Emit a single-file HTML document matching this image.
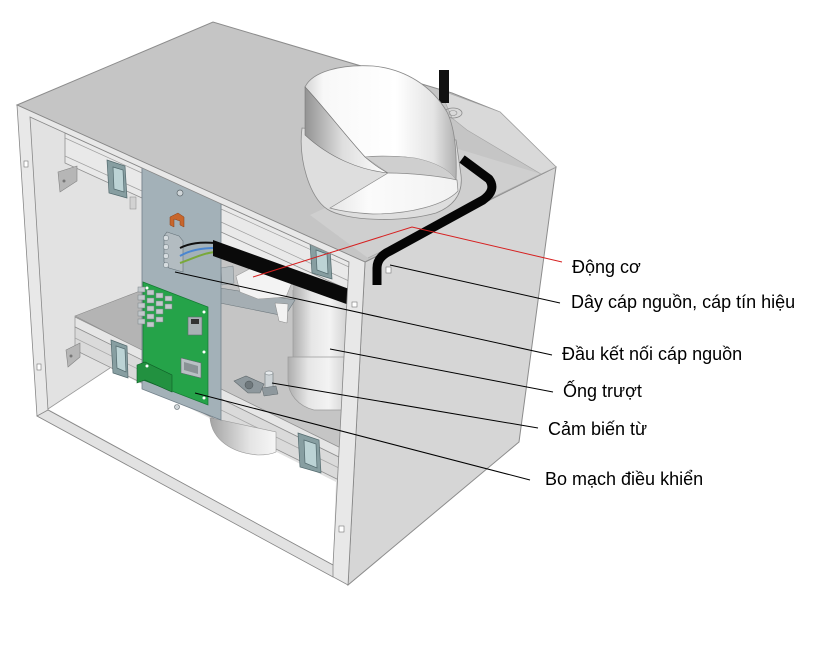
<!DOCTYPE html>
<html><head><meta charset="utf-8"><style>
html,body{margin:0;padding:0;background:#fff;}
svg{display:block}
text{font-family:"Liberation Sans", Arial, sans-serif;font-size:18px;fill:#000}
</style></head><body>
<svg width="819" height="660" viewBox="0 0 819 660" xmlns="http://www.w3.org/2000/svg">
<defs>
 <linearGradient id="cylOut" x1="0" x2="1" y1="0" y2="0">
  <stop offset="0" stop-color="#939393"/><stop offset="0.45" stop-color="#dedede"/><stop offset="1" stop-color="#ffffff"/>
 </linearGradient>
 <linearGradient id="cylIn" x1="0" x2="1">
  <stop offset="0" stop-color="#d4d4d4"/><stop offset="0.12" stop-color="#f8f8f8"/><stop offset="0.6" stop-color="#ffffff"/><stop offset="0.85" stop-color="#e4e4e4"/><stop offset="1" stop-color="#b0b0b0"/>
 </linearGradient>
 <linearGradient id="tube" x1="0" x2="1">
  <stop offset="0" stop-color="#adadad"/><stop offset="0.35" stop-color="#e6e6e6"/><stop offset="0.7" stop-color="#f3f3f3"/><stop offset="1" stop-color="#d4d4d4"/>
 </linearGradient>
 <linearGradient id="fan" x1="0" x2="1">
  <stop offset="0" stop-color="#a4a4a4"/><stop offset="0.6" stop-color="#e4e4e4"/><stop offset="1" stop-color="#f6f6f6"/>
 </linearGradient>
 <linearGradient id="tongue" x1="0" x2="1">
  <stop offset="0" stop-color="#e6e6e6"/><stop offset="0.3" stop-color="#fbfbfb"/><stop offset="1" stop-color="#f2f2f2"/>
 </linearGradient>
</defs>

<!-- right face -->
<polygon points="365,262 556,167 519,442 348,585" fill="#d6d6d6" stroke="#8c8c8c" stroke-width="1"/>

<!-- top face -->
<polygon points="17,105 213,22 452,93 500,112 556,167 365,262" fill="#c5c5c5" stroke="#8c8c8c" stroke-width="1"/>
<polygon points="310,215 455,148 541,174 368,258" fill="#cfcfcf"/>
<polygon points="440,90 500,112 556,167 541,174 467,130 452,118" fill="#d9d9d9" stroke="#a5a5a5" stroke-width="0.6"/>
<line x1="368" y1="258" x2="541" y2="174" stroke="#a8a8a8" stroke-width="0.8"/>

<!-- interior -->
<polygon points="30,117 349,262 333,565 48,410" fill="#e2e2e2"/>
<!-- white opening -->
<polygon points="48,409 110,368 336,482 333,565" fill="#ffffff"/>
<line x1="48" y1="409" x2="110" y2="368" stroke="#9a9a9a" stroke-width="0.8"/>

<!-- right compartment back wall -->
<polygon points="221,226 349,285 349,452 221,389" fill="#c5c5c5"/>
<polygon points="221,226 349,285 349,300 221,246" fill="#ececec"/>

<!-- upper rail left -->
<polygon points="65,133 142,168 142,198 65,163" fill="#e9e9e9" stroke="#8f8f8f" stroke-width="0.8"/>
<line x1="65" y1="138" x2="142" y2="173" stroke="#a0a0a0" stroke-width="0.7"/>
<line x1="65" y1="156" x2="142" y2="191" stroke="#a0a0a0" stroke-width="0.7"/>
<!-- upper rail right -->
<polygon points="221,204 349,262 349,290 221,232" fill="#e9e9e9" stroke="#8f8f8f" stroke-width="0.8"/>
<line x1="221" y1="209" x2="349" y2="267" stroke="#a0a0a0" stroke-width="0.7"/>
<line x1="221" y1="222" x2="349" y2="281" stroke="#a0a0a0" stroke-width="0.7"/>

<!-- lower shelf top (left) -->
<polygon points="75,316 140,291 143,291 143,351" fill="#b4b4b4" stroke="#8a8a8a" stroke-width="0.6"/>
<!-- shelf front band + rail -->
<polygon points="75,317 349,452 349,462 75,327" fill="#e6e6e6" stroke="#8f8f8f" stroke-width="0.7"/>
<polygon points="75,327 349,462 349,485 75,350" fill="#dadada" stroke="#8f8f8f" stroke-width="0.7"/>
<line x1="75" y1="338" x2="349" y2="473" stroke="#a6a6a6" stroke-width="0.7"/>

<!-- fan bottom -->
<path d="M210,418 C212,440 232,453 258,455 C266,455 272,454 276,452 L276,432 L221,420 Z" fill="url(#fan)" stroke="#999" stroke-width="0.6"/>

<!-- slide tube cylinder -->
<path d="M293,285 L346,290 L346,357 L293,357 Z" fill="url(#tube)"/>
<path d="M288,357 L346,357 L346,410 L314,410 C298,406 288,394 288,380 Z" fill="url(#tube)" stroke="#9a9a9a" stroke-width="0.7"/>
<line x1="293" y1="290" x2="293" y2="357" stroke="#9a9a9a" stroke-width="0.7"/>

<!-- magnetic sensor -->
<polygon points="234,381 246,376 264,384 260,393 248,393" fill="#8e989d" stroke="#5f686c" stroke-width="0.6"/>
<circle cx="249" cy="385" r="4" fill="#6f787c" stroke="#4a5255" stroke-width="0.5"/>
<rect x="265" y="373" width="8" height="17" fill="#cdd3d6" stroke="#6f777b" stroke-width="0.6"/>
<ellipse cx="269" cy="373" rx="4" ry="2" fill="#e6eaec" stroke="#6f777b" stroke-width="0.5"/>
<polygon points="262,388 276,386 278,394 264,396" fill="#8e989d" stroke="#5f686c" stroke-width="0.5"/>

<!-- motor bracket + motor -->
<polygon points="220,288 295,300 285,316 220,303" fill="#a5aeb3" stroke="#6f797e" stroke-width="0.6"/>
<polygon points="275,303 288,304 287,323 279,321" fill="#f2f2f2" stroke="#888" stroke-width="0.5"/>
<polygon points="236,276 255,266 285,270 293,280 286,297 258,299 240,292" fill="#f3f3f3" stroke="#999" stroke-width="0.6"/>
<polygon points="221,268 233,266 234,283 222,285" fill="#b4bcc0" stroke="#7a8388" stroke-width="0.5"/>

<!-- mounting plate -->
<polygon points="142,166 221,199 221,420 142,389" fill="#a3b1b8" stroke="#72808a" stroke-width="0.8"/>
<circle cx="180" cy="193" r="3" fill="#d0d6d9" stroke="#5d676c" stroke-width="0.7"/>
<circle cx="177" cy="407" r="2.5" fill="#d0d6d9" stroke="#5d676c" stroke-width="0.6"/>
<!-- orange bracket -->
<polygon points="170,217 178,213 184,217 184,227 180,225 180,221 174,219 174,227 170,225" fill="#c8662c" stroke="#8a3f14" stroke-width="0.5"/>
<!-- connector block -->
<polygon points="167,232 179,236 183,241 183,272 169,268 164,262 164,236" fill="#b3bcc1" stroke="#66737a" stroke-width="0.6"/>
<circle cx="166" cy="238" r="2.6" fill="#d7dde0" stroke="#66737a" stroke-width="0.5"/>
<circle cx="166" cy="247" r="2.6" fill="#d7dde0" stroke="#66737a" stroke-width="0.5"/>
<circle cx="166" cy="256" r="2.6" fill="#d7dde0" stroke="#66737a" stroke-width="0.5"/>
<circle cx="166" cy="265" r="2.6" fill="#d7dde0" stroke="#66737a" stroke-width="0.5"/>
<!-- wires -->
<path d="M180,248 C190,243 200,242 215,243" stroke="#111" stroke-width="2" fill="none"/>
<path d="M180,256 C190,250 202,248 215,248" stroke="#4a86d0" stroke-width="2" fill="none"/>
<path d="M180,263 C194,258 204,253 215,252" stroke="#79a83a" stroke-width="2" fill="none"/>

<!-- black cable bar -->
<polygon points="213,240 352,290 352,306 213,256" fill="#0a0a0a"/>

<!-- PCB -->
<polygon points="143,282 208,307 208,405 143,380" fill="#25a349" stroke="#157a33" stroke-width="0.7"/>
<g fill="#c2c8cb" stroke="#7a8387" stroke-width="0.5">
<rect x="138" y="287" width="7" height="5"/><rect x="138" y="295" width="7" height="5"/><rect x="138" y="303" width="7" height="5"/><rect x="138" y="311" width="7" height="5"/><rect x="138" y="319" width="7" height="5"/>
<rect x="147" y="290" width="7" height="5"/><rect x="147" y="298" width="7" height="5"/><rect x="147" y="306" width="7" height="5"/><rect x="147" y="314" width="7" height="5"/><rect x="147" y="322" width="7" height="5"/>
<rect x="156" y="293" width="7" height="5"/><rect x="156" y="301" width="7" height="5"/><rect x="156" y="309" width="7" height="5"/><rect x="156" y="317" width="7" height="5"/>
<rect x="165" y="296" width="7" height="5"/><rect x="165" y="304" width="7" height="5"/>
</g>
<rect x="188" y="317" width="14" height="18" fill="#a9b1b5" stroke="#5f6a6f" stroke-width="0.6"/>
<rect x="191" y="319" width="8" height="5" fill="#333"/>
<polygon points="181,358 201,363 201,378 181,373" fill="#b9c0c4" stroke="#5f6a6f" stroke-width="0.6"/>
<polygon points="184,362 198,366 198,374 184,370" fill="#8a9296"/>
<polygon points="137,365 145,362 172,375 172,392 145,380 137,383" fill="#229140" stroke="#0f5e27" stroke-width="0.6"/>
<g fill="#fff"><circle cx="147" cy="288" r="1.5"/><circle cx="204" cy="312" r="1.5"/><circle cx="204" cy="398" r="1.5"/><circle cx="204" cy="352" r="1.5"/><circle cx="147" cy="366" r="1.5"/></g>

<!-- latches -->
<g stroke="#536a6e" stroke-width="0.7">
<polygon points="107,160 125,166 127,198 109,193" fill="#879ea1"/>
<polygon points="113,167 123,170 124,192 114,189" fill="#bcd3d5"/>
<polygon points="310,243 330,249 332,279 312,273" fill="#879ea1"/>
<polygon points="316,250 327,254 328,274 317,270" fill="#bcd3d5"/>
<polygon points="111,340 127,346 128,378 113,373" fill="#879ea1"/>
<polygon points="116,346 125,349 126,372 117,368" fill="#bcd3d5"/>
<polygon points="298,433 319,440 321,473 300,467" fill="#879ea1"/>
<polygon points="304,440 316,444 317,468 305,463" fill="#bcd3d5"/>
</g>
<!-- side brackets -->
<polygon points="58,172 77,166 77,181 60,192" fill="#b6b6b6" stroke="#838383" stroke-width="0.6"/>
<circle cx="64" cy="181" r="1.5" fill="#777"/>
<polygon points="66,350 80,343 80,357 68,367" fill="#b6b6b6" stroke="#838383" stroke-width="0.6"/>
<circle cx="71" cy="356" r="1.5" fill="#777"/>
<rect x="130" y="197" width="6" height="12" fill="#d2d2d2" stroke="#888" stroke-width="0.5"/>

<!-- front frame -->
<path d="M17,105 L365,262 L348,585 L37,416 Z M30,117 L349,262 L333,565 L48,410 Z" fill="#e8e8e8" fill-rule="evenodd" stroke="#888" stroke-width="0.8"/>
<polygon points="37,416 48,410 333,565 333,577" fill="#e2e2e2" stroke="#888" stroke-width="0.8"/>
<g fill="#fff" stroke="#777" stroke-width="0.6">
<rect x="24" y="161" width="4" height="6"/><rect x="37" y="364" width="4" height="6"/>
<rect x="352" y="302" width="5" height="5"/><rect x="339" y="526" width="5" height="6"/>
<rect x="386" y="267" width="5" height="6"/>
</g>

<!-- black post on top -->
<rect x="439" y="70" width="10" height="33" fill="#111"/>
<ellipse cx="453" cy="113" rx="9" ry="5" fill="none" stroke="#8a8a8a" stroke-width="0.8"/>
<ellipse cx="453" cy="113" rx="4" ry="2.5" fill="none" stroke="#8a8a8a" stroke-width="0.6"/>

<!-- black cable on top -->
<path d="M377,285 L377,268 Q377,257 390,251 L483,200 Q497,190 489,179 L462,159" stroke="#050505" stroke-width="9" fill="none" stroke-linejoin="round"/>

<!-- top cylinder -->
<path d="M302,128 C298,160 310,198 327,209 C345,221 400,223 436,213 C456,205 463,192 461,175 L456,140 Z" fill="#dedede" stroke="#8a8a8a" stroke-width="0.8"/>
<path d="M305,87 C312,72 340,64 373,66 C405,69 432,86 447,112 C455,128 457,152 456,180 C445,170 430,160 405,157 C390,156 375,156 365,157 C345,135 322,105 305,87 Z" fill="url(#cylIn)" stroke="#8a8a8a" stroke-width="0.8"/>
<path d="M365,157 C380,156 400,156 415,158 C435,162 450,170 456,180 L456,184 C440,178 415,174 388,173 Z" fill="#cfcfcf" stroke="#9a9a9a" stroke-width="0.5"/>
<path d="M305,87 C322,105 345,135 365,157 C372,163 380,169 388,173 C360,170 330,158 305,135 Z" fill="url(#cylOut)" stroke="#777" stroke-width="0.6"/>
<path d="M330,208 L388,173 C410,173 440,176 457,180 L458,191 C445,205 410,214 373,214 C355,213 340,211 330,208 Z" fill="url(#tongue)" stroke="#8a8a8a" stroke-width="0.7"/>

<!-- leader lines -->
<polyline points="253,277 412,227 562,262" fill="none" stroke="#d62020" stroke-width="1"/>
<g stroke="#000" stroke-width="1">
<line x1="390" y1="265" x2="560" y2="303"/>
<line x1="175" y1="272" x2="552" y2="355"/>
<line x1="330" y1="349" x2="553" y2="392"/>
<line x1="272" y1="383" x2="538" y2="428"/>
<line x1="195" y1="393" x2="530" y2="480"/>
</g>

<!-- labels -->
<text x="572" y="273">Động cơ</text>
<text x="571" y="308">Dây cáp nguồn, cáp tín hiệu</text>
<text x="562" y="360">Đầu kết nối cáp nguồn</text>
<text x="563" y="397">Ống trượt</text>
<text x="548" y="435">Cảm biến từ</text>
<text x="545" y="485">Bo mạch điều khiển</text>
</svg>
</body></html>
